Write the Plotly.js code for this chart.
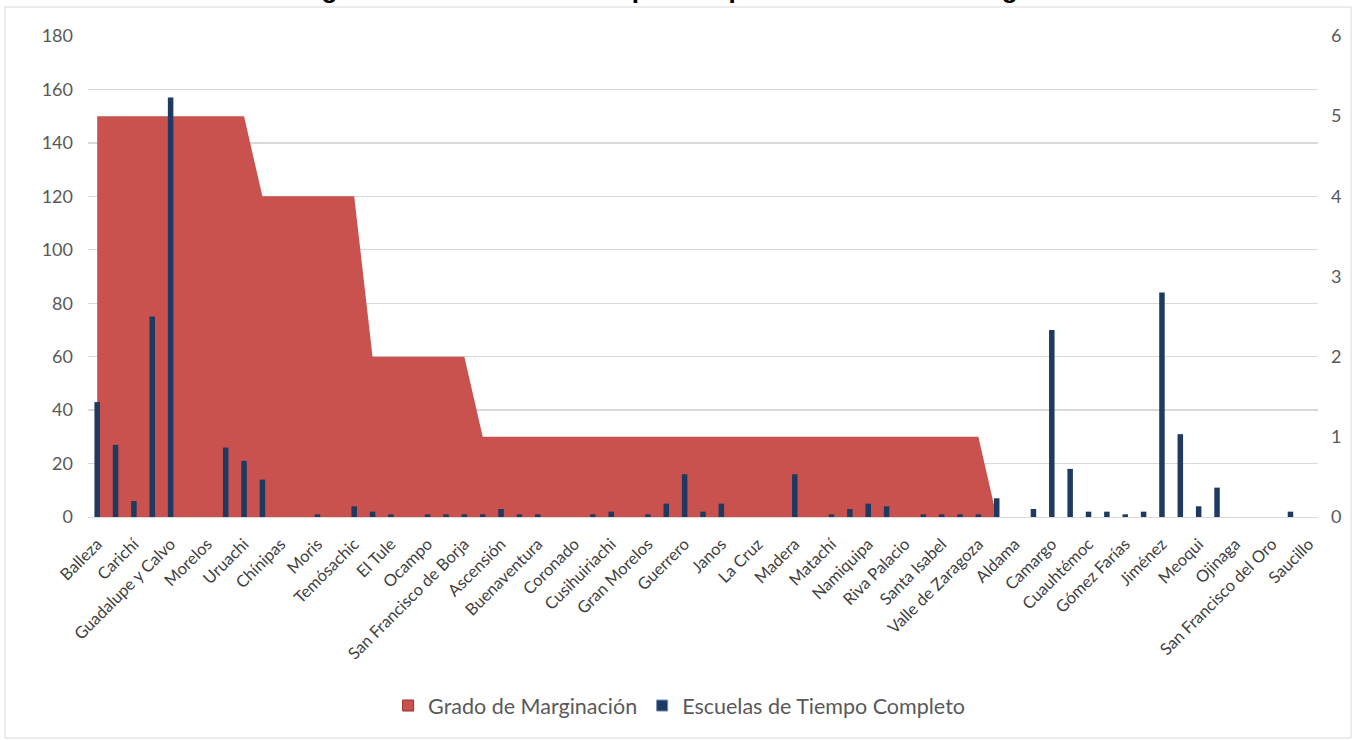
<!DOCTYPE html>
<html>
<head>
<meta charset="utf-8">
<script src="https://cdn.plot.ly/plotly-3.0.1.min.js"></script>
<style>html,body{margin:0;padding:0;background:#fff;}#chart{width:1353px;height:740px;}</style>
</head>
<body>
<div id="chart"></div>
<script>
const categories = [
  "Balleza","Batopilas","Carichí","Guachochi","Guadalupe y Calvo","Guazapares","Morelos","Urique","Uruachi",
  "Bocoyna","Chínipas","Maguarichi","Moris","Nonoava","Temósachic",
  "Dr. Belisario Domínguez","El Tule","Huejotitán","Ocampo","Rosario","San Francisco de Borja",
  "Allende","Ascensión","Bachíniva","Buenaventura","Casas Grandes","Coronado","Coyame del Sotol","Cusihuiriachi",
  "Galeana","Gran Morelos","Guadalupe","Guerrero","Ignacio Zaragoza","Janos","Julimes","La Cruz","López","Madera",
  "Manuel Benavides","Matachí","Matamoros","Namiquipa","Praxedis G. Guerrero","Riva Palacio","San Francisco de Conchos",
  "Santa Isabel","Satevó","Valle de Zaragoza",
  "Ahumada","Aldama","Aquiles Serdán","Camargo","Chihuahua","Cuauhtémoc","Delicias","Gómez Farías","Hidalgo del Parral",
  "Jiménez","Juárez","Meoqui","Nuevo Casas Grandes","Ojinaga","Rosales","San Francisco del Oro","Santa Bárbara","Saucillo"
];
const escuelas = [
  43,27,6,75,157,0,0,26,21,
  14,0,0,1,0,4,
  2,1,0,1,1,1,
  1,3,1,1,0,0,1,2,
  0,1,5,16,2,5,0,0,0,16,
  0,1,3,5,4,0,
  1,1,1,
  1,7,0,3,70,18,2,2,1,
  2,84,31,4,11,0,0,0,2
];
const grado = [
  5,5,5,5,5,5,5,5,5,
  4,4,4,4,4,4,
  2,2,2,2,2,2,
  1,1,1,1,1,1,1,1,1,1,1,1,1,1,1,1,1,1,1,1,1,1,1,1,1,1,1,1,
  0,0,0,0,0,0,0,0,0,0,0,0,0,0,0,0,0,0
];
const seriesNames = ["Grado de Marginación", "Escuelas de Tiempo Completo"];
const tickLabels = categories.filter((c, i) => i % 2 === 0);
const titleText = "Figura 3. Escuelas de Tiempo Completo vs Grado de Marginación";

const areaColor = "#C9524F";
const barColor = "#1F3A60";

const traces = [
  {
    type: "scatter", mode: "lines", name: seriesNames[0], showlegend: false,
    x: categories, y: grado, yaxis: "y",
    fill: "tozeroy", fillcolor: areaColor,
    line: {color: areaColor, width: 0, shape: "linear"}
  },
  {
    type: "bar", name: seriesNames[1], showlegend: false,
    x: categories, y: escuelas, yaxis: "y2",
    width: 0.3,
    marker: {color: barColor, line: {width: 0}}
  },
  // legend entries (square swatches, as in the reference)
  {
    type: "scatter", mode: "markers", name: seriesNames[0], x: [null], y: [null], yaxis: "y",
    marker: {symbol: "square", size: 11, color: areaColor, line: {color: "#8E2F2C", width: 1}}
  },
  {
    type: "scatter", mode: "markers", name: seriesNames[1], x: [null], y: [null], yaxis: "y",
    marker: {symbol: "square", size: 11, color: barColor, line: {color: "#6F8FB8", width: 1}}
  }
];

const layout = {
  width: 1353, height: 740,
  paper_bgcolor: "#ffffff", plot_bgcolor: "rgba(0,0,0,0)",
  margin: {l: 88, r: 35, t: 36, b: 223},
  font: {family: "Lato, 'Open Sans', sans-serif", color: "#595959"},
  title: {
    text: "<b>" + titleText + "</b>",
    font: {family: "'Liberation Sans', Arial, sans-serif", size: 26, color: "#000"},
    xref: "container", x: 0.52, xanchor: "center",
    yref: "container", y: 1, yanchor: "bottom", pad: {b: 2}
  },
  showlegend: true,
  legend: {
    orientation: "h", x: 0.244, xanchor: "left", y: -0.392, yanchor: "middle",
    font: {size: 21.5, color: "#595959"}, traceorder: "normal", itemwidth: 30
  },
  xaxis: {
    type: "category", categoryorder: "array", categoryarray: categories,
    range: [-0.5, categories.length - 0.5],
    tickmode: "array", tickvals: tickLabels, ticktext: tickLabels,
    tickangle: -45, tickfont: {size: 16.5, color: "#404040"}, ticklabelstandoff: 10,
    showgrid: false, showline: true, linecolor: "#D9D9D9", linewidth: 1,
    ticks: "", zeroline: false, automargin: false, fixedrange: true
  },
  yaxis: {
    side: "right", range: [0, 6], dtick: 1, tick0: 0,
    showgrid: false, zeroline: false, showline: false,
    tickfont: {size: 18, color: "#595959"}, ticklabelstandoff: 12,
    automargin: false, fixedrange: true
  },
  yaxis2: {
    side: "left", overlaying: "y", range: [0, 180], dtick: 20, tick0: 0,
    showgrid: true, gridcolor: "#D9D9D9", gridwidth: 1.3,
    zeroline: false, showline: false,
    tickfont: {size: 18, color: "#595959"}, ticklabelstandoff: 14,
    automargin: false, fixedrange: true
  },
  shapes: [
    {type: "rect", xref: "paper", yref: "paper",
     x0: (5 - 88) / 1230, x1: (1351 - 88) / 1230,
     y0: (517 - 738) / 481, y1: (517 - 7) / 481,
     line: {color: "#D9D9D9", width: 1}, fillcolor: "rgba(0,0,0,0)", layer: "below"}
  ]
};

Plotly.newPlot("chart", traces, layout, {displayModeBar: false, staticPlot: true});
</script>
</body>
</html>
